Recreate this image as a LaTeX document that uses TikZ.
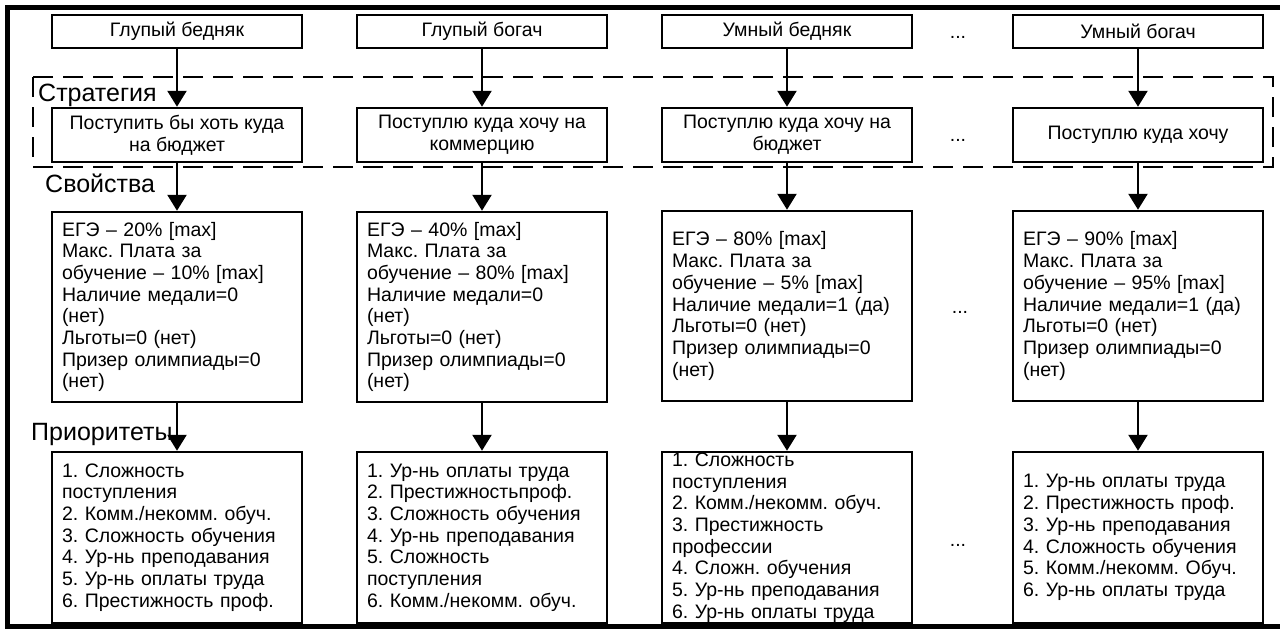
\documentclass[tikz,border=0pt]{standalone}
\usepackage{fontspec}
\setmainfont{Liberation Sans}
\usetikzlibrary{arrows.meta}
\frenchspacing

\begin{document}
\begin{tikzpicture}
  [x=1pt,y=-1pt,
   box/.style={draw,line width=2.5pt,minimum width=250pt,inner sep=0pt,
     font=\fontsize{19.5}{21.7}\selectfont},
   topbox/.style={box,minimum height=33pt},
   strbox/.style={box,minimum height=54pt,align=center},
   propbox/.style={box,minimum height=190pt,text width=230pt,inner xsep=10pt,align=left},
   priobox/.style={box,minimum height=171pt,text width=230pt,inner xsep=10pt,align=left},
   lbl/.style={anchor=west,inner sep=0pt,font=\fontsize{25}{27}\selectfont},
   dots/.style={inner sep=0pt,font=\fontsize{19.5}{21.7}\selectfont},
   arr/.style={line width=2.5pt,-{Triangle[length=16pt,width=19pt]}}]
  \useasboundingbox (0,0) rectangle (1280,632);

  \draw[line width=5pt] (1280,7.5) -- (7.5,7.5) -- (7.5,626) -- (1280,626);
  \draw[line width=2.5pt,dash pattern=on 20pt off 10pt] (33,77) rectangle (1273,167);

  \node[lbl] (strat) at (38,95) {Стратегия};
  \node[lbl] (props) at (45,183) {Свойства};
  \node[lbl] (prio) at (31,434) {Приоритеты};

  \node[topbox] (gp) at (177,31.5) {Глупый бедняк};
  \node[topbox] (gr) at (482,31.5) {Глупый богач};
  \node[topbox] (sp) at (787,31.5) {Умный бедняк};
  \node[topbox] (sr) at (1138,31.5) {Умный богач};

  \node[strbox] (gps) at (177,135) {Поступить бы хоть куда\\на бюджет};
  \node[strbox] (grs) at (482,135) {Поступлю куда хочу на\\коммерцию};
  \node[strbox] (sps) at (787,135) {Поступлю куда хочу на\\бюджет};
  \node[strbox] (srs) at (1138,135) {Поступлю куда хочу};

  \node[propbox] (gpp) at (177,307) {ЕГЭ – 20\% [max]\\Макс. Плата за\\обучение – 10\% [max]\\Наличие медали=0\\(нет)\\Льготы=0 (нет)\\Призер олимпиады=0\\(нет)};
  \node[propbox] (grp) at (482,307) {ЕГЭ – 40\% [max]\\Макс. Плата за\\обучение – 80\% [max]\\Наличие медали=0\\(нет)\\Льготы=0 (нет)\\Призер олимпиады=0\\(нет)};
  \node[propbox] (spp) at (787,306) {ЕГЭ – 80\% [max]\\Макс. Плата за\\обучение – 5\% [max]\\Наличие медали=1 (да)\\Льготы=0 (нет)\\Призер олимпиады=0\\(нет)};
  \node[propbox] (srp) at (1138,306) {ЕГЭ – 90\% [max]\\Макс. Плата за\\обучение – 95\% [max]\\Наличие медали=1 (да)\\Льготы=0 (нет)\\Призер олимпиады=0\\(нет)};

  \node[priobox] (gpr) at (177,537.5) {1. Сложность\\поступления\\2. Комм./некомм. обуч.\\3. Сложность обучения\\4. Ур-нь преподавания\\5. Ур-нь оплаты труда\\6. Престижность проф.};
  \node[priobox] (grr) at (482,537.5) {1. Ур-нь оплаты труда\\2. Престижностьпроф.\\3. Сложность обучения\\4. Ур-нь преподавания\\5. Сложность\\поступления\\6. Комм./некомм. обуч.};
  \node[priobox] (spr) at (787,537.5) {1. Сложность\\поступления\\2. Комм./некомм. обуч.\\3. Престижность\\профессии\\4. Сложн. обучения\\5. Ур-нь преподавания\\6. Ур-нь оплаты труда};
  \node[priobox] (srr) at (1138,537.5) {1. Ур-нь оплаты труда\\2. Престижность проф.\\3. Ур-нь преподавания\\4. Сложность обучения\\5. Комм./некомм. Обуч.\\6. Ур-нь оплаты труда};

  \node[dots] (d1) at (958,37) {...};
  \node[dots] (d2) at (958,140) {...};
  \node[dots] (d3) at (960,312) {...};
  \node[dots] (d4) at (958,545) {...};

  \draw[arr] (gp) -- (gps);
  \draw[arr] (gr) -- (grs);
  \draw[arr] (sp) -- (sps);
  \draw[arr] (sr) -- (srs);

  \draw[arr] (gps) -- (gpp);
  \draw[arr] (grs) -- (grp);
  \draw[arr] (sps) -- (spp);
  \draw[arr] (srs) -- (srp);

  \draw[arr] (gpp) -- (gpr);
  \draw[arr] (grp) -- (grr);
  \draw[arr] (spp) -- (spr);
  \draw[arr] (srp) -- (srr);
\end{tikzpicture}
\end{document}
